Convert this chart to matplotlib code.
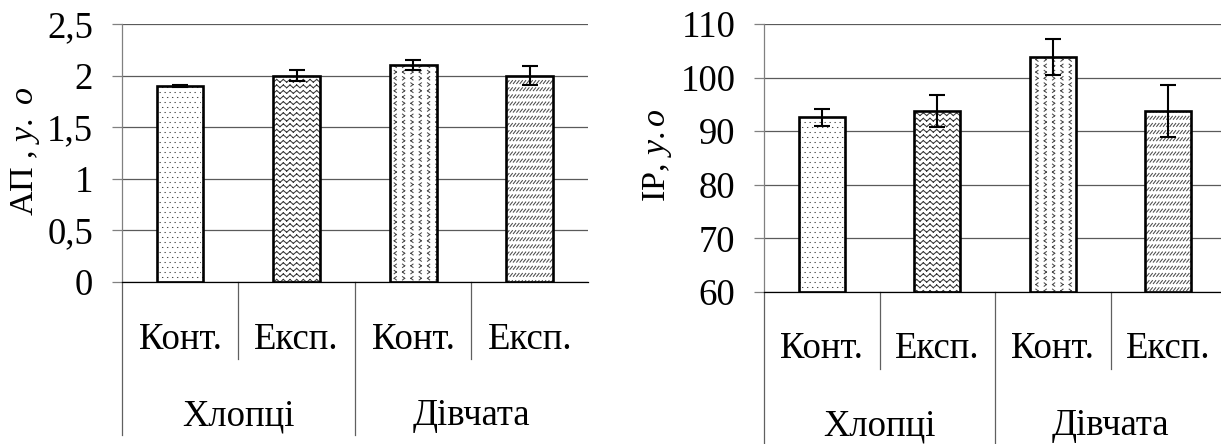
import numpy as np
import matplotlib
matplotlib.use('Agg')
import matplotlib.pyplot as plt
import matplotlib.hatch as mhatch
from matplotlib.path import Path
from matplotlib.transforms import blended_transform_factory
from matplotlib.lines import Line2D

# ---------------- data ----------------
subgroups = ['Конт.', 'Експ.', 'Конт.', 'Експ.']
groups = ['Хлопці', 'Дівчата']
ap_values = [1.90, 2.00, 2.10, 2.00]
ap_errors = [0.012, 0.05, 0.05, 0.09]
ap_ticks = [0, 0.5, 1, 1.5, 2, 2.5]
ap_ticklabels = ['0', '0,5', '1', '1,5', '2', '2,5']
ir_values = [92.6, 93.8, 103.8, 93.8]
ir_errors = [1.6, 3.0, 3.4, 4.8]
ir_ticks = [60, 70, 80, 90, 100, 110]
ir_ticklabels = ['60', '70', '80', '90', '100', '110']

# ---------------- custom Excel-like fill patterns ----------------
class _SegHatch(mhatch.HatchPatternBase):
    char = None

    def __init__(self, hatch, density):
        if self.char in hatch:
            self.segs = np.array(self.make_segments(), dtype=float)
        else:
            self.segs = np.empty((0, 2, 2))
        self.num_vertices = len(self.segs) * 2

    def set_vertices_and_codes(self, vertices, codes):
        vertices[0::2] = self.segs[:, 0]
        vertices[1::2] = self.segs[:, 1]
        codes[0::2] = Path.MOVETO
        codes[1::2] = Path.LINETO


class DotHatch(_SegHatch):
    char = '.'

    def make_segments(self):
        n = 20
        segs = []
        for r in range(n):
            y = (r + 0.5) / n
            off = 0.5 if r % 2 else 0.0
            for c in range(n):
                x = ((c + 0.5 + off) / n) % 1.0
                segs.append([[x, y], [x + 0.003, y]])
        return segs


class ZigzagHatch(_SegHatch):
    char = '*'

    def make_segments(self):
        rows, periods, amp = 18, 15, 0.028
        segs = []
        xs = np.linspace(0, 1, 2 * periods + 1)
        for r in range(rows):
            y0 = (r + 0.2) / rows
            ys = y0 + amp * (np.arange(2 * periods + 1) % 2)
            for i in range(2 * periods):
                segs.append([[xs[i], ys[i]], [xs[i + 1], ys[i + 1]]])
        return segs


class ChevronHatch(_SegHatch):
    char = 'o'

    def make_segments(self):
        rows, cols = 16, 12
        w, h = 0.022, 0.034
        segs = []
        for r in range(rows):
            for c in range(cols):
                x = (c + 0.3) / cols
                y = (r + 0.2) / rows
                if (r + c) % 2 == 0:
                    tip = (x, y + h / 2); a = (x + w, y); b = (x + w, y + h)
                else:
                    tip = (x + w, y + h / 2); a = (x, y); b = (x, y + h)
                segs.append([a, tip])
                segs.append([tip, b])
        return segs


class DashDiagHatch(_SegHatch):
    char = '/'

    def make_segments(self):
        rows, per_row = 14, 30
        dx, dy = 0.024, 0.03
        segs = []
        for r in range(rows):
            y = (r + 0.3) / rows
            for c in range(per_row):
                x = c / per_row
                segs.append([[x, y], [x + dx, y + dy]])
        return segs


mhatch._hatch_types = [DotHatch, ZigzagHatch, ChevronHatch, DashDiagHatch]

# ---------------- style ----------------
plt.rcParams['font.family'] = ['Liberation Serif', 'DejaVu Serif']
plt.rcParams['mathtext.fontset'] = 'custom'
plt.rcParams['mathtext.rm'] = 'Liberation Serif'
plt.rcParams['mathtext.it'] = 'Liberation Serif:italic'
plt.rcParams['hatch.linewidth'] = 0.75

W, H = 1221, 444
fig = plt.figure(figsize=(W / 100, H / 100), dpi=100)
fig.patch.set_facecolor('white')

hatches = ['.', '*', 'o', '/']
hatch_colors = ['#4a4a4a', '#3a3a3a', '#4a4a4a', '#4a4a4a']
FS = 26.5
FS_LABEL = 24.5


def panel(rect, values, errors, ticks, ticklabels, ylabel, ylabel_xy,
          lvl1_base, lvl2_base, short_end, long_end):
    ax = fig.add_axes(rect)
    base = ticks[0]
    x = np.arange(len(values))
    heights = np.array(values) - base
    for i in range(len(values)):
        ax.bar(x[i], heights[i], width=0.4, bottom=base, color='white',
               edgecolor=hatch_colors[i], linewidth=0, hatch=hatches[i], zorder=2)
    ax.bar(x, heights, width=0.4, bottom=base, fill=False, edgecolor='black',
           linewidth=1.9, zorder=3)
    ax.errorbar(x, values, yerr=errors, fmt='none', ecolor='black',
                elinewidth=1.5, capsize=6, capthick=1.5, zorder=4)
    ax.set_xlim(-0.5, len(values) - 0.5)
    ax.set_ylim(ticks[0], ticks[-1])
    ax.set_yticks(ticks)
    ax.set_yticklabels(ticklabels)
    ax.set_xticks([])
    ax.tick_params(axis='y', length=7.5, width=0.9, color='#808080', pad=13,
                   labelsize=FS)
    ax.yaxis.grid(True, color='#5a5a5a', linewidth=0.9)
    ax.set_axisbelow(True)
    for s in ['top', 'right']:
        ax.spines[s].set_visible(False)
    ax.spines['left'].set_color('#808080')
    ax.spines['left'].set_linewidth(0.9)
    ax.spines['bottom'].set_color('black')
    ax.spines['bottom'].set_linewidth(0.9)

    trans = blended_transform_factory(ax.transData, fig.transFigure)
    y0 = rect[1]
    # category labels
    for i, lab in enumerate(subgroups):
        ax.text(i, 1 - lvl1_base / H, lab, transform=trans, ha='center',
                va='baseline', fontsize=FS, clip_on=False)
    for g, lab in enumerate(groups):
        ax.text(2 * g + 0.5, 1 - lvl2_base / H, lab, transform=trans,
                ha='center', va='baseline', fontsize=FS, clip_on=False)
    # separators
    for xs in [0.5, 2.5]:
        ax.add_line(Line2D([xs, xs], [y0, 1 - short_end / H], transform=trans,
                           color='#606060', lw=0.9, clip_on=False))
    for xs in [-0.5, 1.5]:
        ax.add_line(Line2D([xs, xs], [y0, 1 - long_end / H], transform=trans,
                           color='#606060', lw=0.9, clip_on=False))
    fig.text(ylabel_xy[0] / W, 1 - ylabel_xy[1] / H, ylabel, rotation=90,
             ha='center', va='center', fontsize=FS_LABEL)
    return ax


# left panel: axis x 121.7..588, y 24..281.7 (px)
panel([121.7 / W, (H - 281.7) / H, 466.4 / W, 257.7 / H],
      ap_values, ap_errors, ap_ticks, ap_ticklabels,
      r'АП , $\mathit{у.\ о}$', (25, 151),
      349, 425, 359, 435)

# right panel: axis x 764..1226, y 24..292 (px)
panel([764 / W, (H - 292) / H, 462 / W, 268 / H],
      ir_values, ir_errors, ir_ticks, ir_ticklabels,
      r'ІР, $\mathit{у.о}$', (658, 155),
      358, 435, 369, 450)

fig.savefig('out.png', dpi=100)
